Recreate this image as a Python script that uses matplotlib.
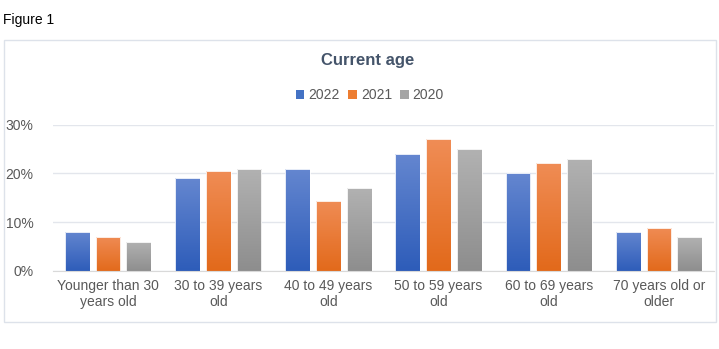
import matplotlib
matplotlib.use("Agg")
import matplotlib.pyplot as plt
import numpy as np
from matplotlib.patches import Rectangle, Patch
from matplotlib.colors import LinearSegmentedColormap

plt.rcParams['font.family'] = ['Liberation Sans', 'DejaVu Sans']

categories = ["Younger than 30\nyears old", "30 to 39 years\nold", "40 to 49 years\nold",
              "50 to 59 years\nold", "60 to 69 years\nold", "70 years old or\nolder"]
series_names = ["2022", "2021", "2020"]
v2022 = [8.0, 19.0, 21.0, 24.0, 20.0, 8.0]
v2021 = [7.0, 20.6, 14.4, 27.0, 22.2, 8.9]
v2020 = [5.9, 21.0, 17.0, 25.0, 23.0, 6.9]
yticks = [0, 10, 20, 30]
ytick_labels = ["0%", "10%", "20%", "30%"]

values = [v2022, v2021, v2020]
grad = [("#6587d0", "#2d5cb9"), ("#f08d56", "#e2691a"), ("#b2b2b2", "#8d8d8d")]
legend_colors = ["#4472c4", "#ed7d31", "#a5a5a5"]

W, H = 719, 349
fig = plt.figure(figsize=(W / 100, H / 100), dpi=100)

# outer border
fig.patches.append(Rectangle((4 / W, 1 - 322 / H), 712 / W, 282 / H, transform=fig.transFigure,
                             fill=False, edgecolor="#dde2ea", linewidth=1.0))
fig.text(3 / W, 1 - 20 / H, "Figure 1", fontsize=10, color="#000000", va="center", ha="left")

ax = fig.add_axes([53 / W, 1 - 271 / H, 661 / W, (271 - 124.7) / H])
x = np.arange(len(categories))
bw = 0.225
offs = [-0.279, 0, 0.279]
for si, vals in enumerate(values):
    cmap = LinearSegmentedColormap.from_list("g%d" % si, [grad[si][1], grad[si][0]])
    g = np.linspace(0, 1, 256).reshape(-1, 1)
    bars = ax.bar(x + offs[si], vals, bw, color="none", edgecolor="white", linewidth=0.6, zorder=4)
    for b, v in zip(bars, vals):
        x0 = b.get_x()
        im = ax.imshow(g, extent=[x0 - 0.01, x0 + bw + 0.01, -0.2, v + 0.2], origin="lower", cmap=cmap,
                       aspect="auto", zorder=3, interpolation="nearest")
        im.set_clip_path(b)

ax.set_xlim(-0.5, len(categories) - 0.5)
ax.set_ylim(0, 30)
ax.set_yticks(yticks)
ax.set_yticklabels(ytick_labels)
ax.set_xticks(x)
ax.set_xticklabels(categories, linespacing=1.15)
ax.tick_params(axis="both", length=0, labelsize=10, labelcolor="#595959")
ax.tick_params(axis="y", pad=14)
ax.tick_params(axis="x", pad=6)
for s in ["top", "right", "left"]:
    ax.spines[s].set_visible(False)
ax.spines["bottom"].set_color("#d9d9d9")
ax.spines["bottom"].set_zorder(5)
ax.grid(axis="y", color="#e3e6ec", linewidth=1.0, zorder=0)
ax.set_axisbelow(True)

fig.text(368 / W, 1 - 61 / H, "Current age", fontsize=12, fontweight="bold", color="#44546a",
         ha="center", va="center")
handles = [Patch(facecolor=c, edgecolor="none") for c in legend_colors]
fig.legend(handles, series_names, loc="center", bbox_to_anchor=(370 / W, 1 - 95 / H), ncol=3,
           frameon=False, fontsize=10, handlelength=0.6, handleheight=0.6, handletextpad=0.3,
           columnspacing=0.6, labelcolor="#595959")

fig.savefig("out.png", dpi=100)
